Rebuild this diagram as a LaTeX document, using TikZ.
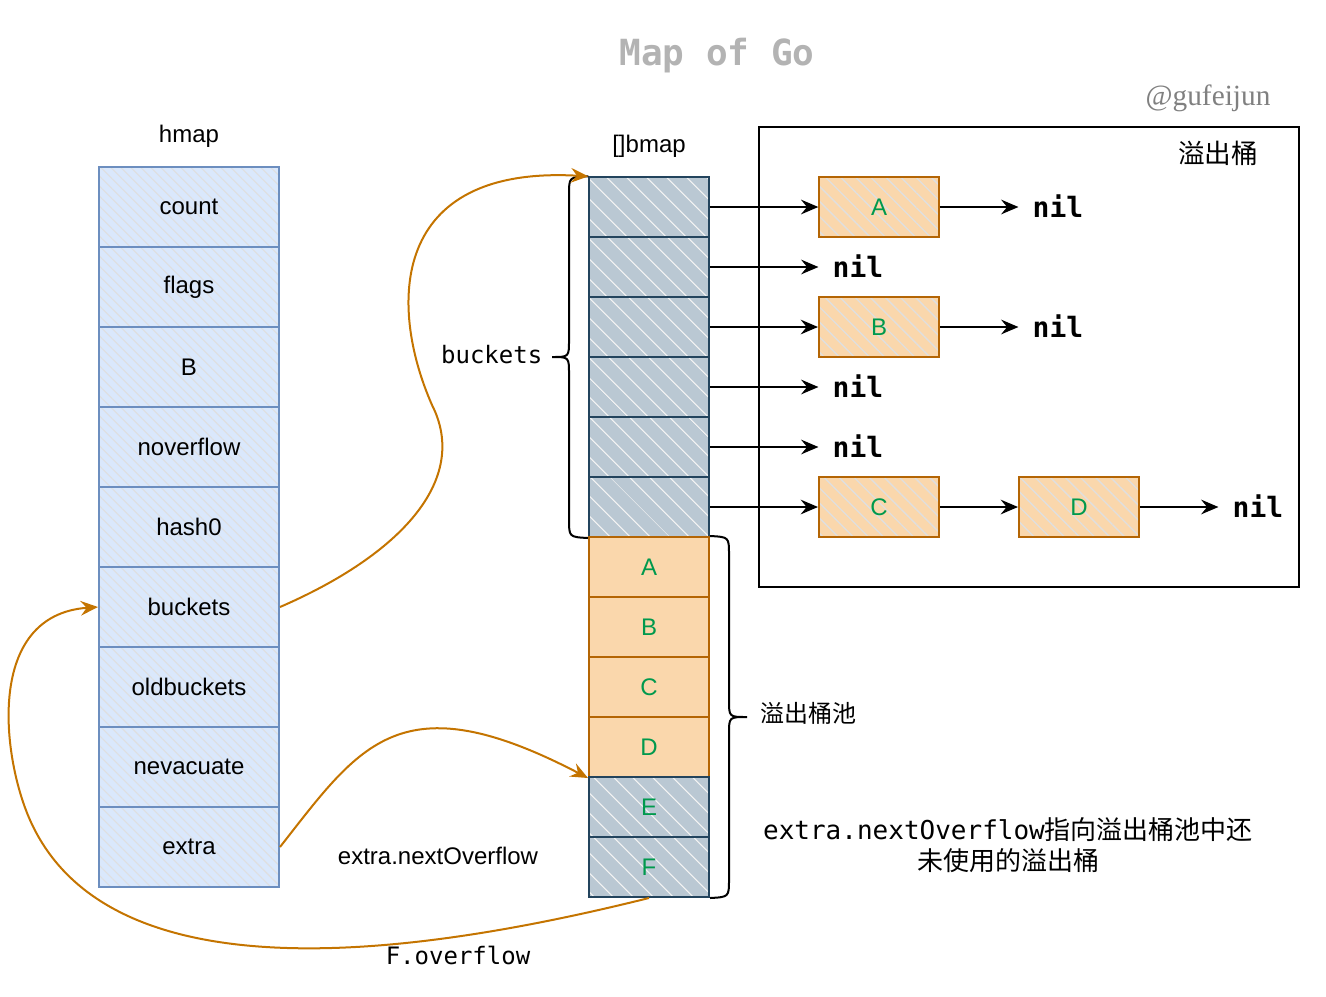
\documentclass[tikz,border=0pt]{standalone}
\usepackage{fontspec}
\setmainfont{Liberation Sans}
\setmonofont{DejaVu Sans Mono}
\newfontfamily\cjk{Noto Sans CJK SC}
\newfontfamily\sigfont{Liberation Serif}
\usepackage{tikz}
\usetikzlibrary{arrows.meta,patterns.meta}

\definecolor{hmapfill}{HTML}{DAE8FC}
\definecolor{hmapline}{HTML}{6C8EBF}
\definecolor{bmapfill}{HTML}{BAC8D3}
\definecolor{bmapline}{HTML}{23445D}
\definecolor{ovfill}{HTML}{FAD7AC}
\definecolor{ovline}{HTML}{B46504}
\definecolor{lettergreen}{HTML}{00994D}
\definecolor{curvecol}{HTML}{C47400}
\definecolor{titlegray}{HTML}{B3B3B3}
\definecolor{siggray}{HTML}{808080}

\tikzset{
  txt/.style={font=\fontsize{18}{21}\selectfont},
  monotxt/.style={font=\ttfamily\fontsize{18}{21}\selectfont},
  hcell/.style={txt, draw=hmapline, line width=1.5pt, preaction={fill=hmapfill},
    pattern={Lines[angle=-45,distance=5.3pt,line width=0.8pt]}, pattern color=gray!25,
    minimum width=135pt, minimum height=60pt, inner sep=0pt},
  bcell/.style={txt, draw=bmapline, line width=1.5pt, preaction={fill=bmapfill},
    pattern={Lines[angle=-45,distance=10.5pt,line width=1pt]}, pattern color=gray!10,
    minimum width=90pt, minimum height=45pt, inner sep=0pt},
  pcell/.style={txt, text=lettergreen, draw=ovline, line width=1.5pt, fill=ovfill,
    minimum width=90pt, minimum height=45pt, inner sep=0pt},
  ocell/.style={pcell, preaction={fill=ovfill},
    pattern={Lines[angle=-45,distance=8pt,line width=1pt]}, pattern color=gray!25},
  nilnode/.style={font=\ttfamily\bfseries\fontsize{21}{24}\selectfont, inner xsep=10.5pt, inner ysep=0pt},
  arr/.style={-{Stealth[length=13pt,width=11pt,inset=4.5pt]}, line width=1.5pt},
  curv/.style={arr, draw=curvecol},
  brace/.style={line width=1.5pt}
}

\begin{document}
\begin{tikzpicture}[x=0.75pt,y=-0.75pt]
\useasboundingbox (0,0) rectangle (1326,996);

\node[font=\ttfamily\bfseries\fontsize{27}{30}\selectfont, text=titlegray] (title) at (717,56) {Map of Go};
\node[font=\sigfont\fontsize{22}{24}\selectfont, text=siggray] (sig) at (1208,98) {@gufeijun};

\node[txt] (hmaplbl) at (189,136) {hmap};
\foreach \lbl [count=\i from 0] in {count,flags,B,noverflow,hash0,buckets,oldbuckets,nevacuate,extra}
  \node[hcell] (h\lbl) at (189,207+80*\i) {\lbl};

\node[txt] (bmaplbl) at (649,146) {[]bmap};
\foreach \i in {0,...,5}
  \node[bcell] (b\i) at (649,207+60*\i) {};
\foreach \lbl [count=\i from 0] in {A,B,C,D}
  \node[pcell] (p\lbl) at (649,567+60*\i) {\lbl};
\foreach \lbl [count=\i from 4] in {E,F}
  \node[bcell, text=lettergreen] (p\lbl) at (649,567+60*\i) {\lbl};

\node[draw, line width=1.5pt, minimum width=405pt, minimum height=345pt] (ovbox) at (1029,357) {};
\node[font=\cjk\fontsize{20}{23}\selectfont] (ovlbl) at (1218,153) {溢出桶};

\node[ocell] (oA) at (879,207) {A};
\node[ocell] (oB) at (879,327) {B};
\node[ocell] (oC) at (879,507) {C};
\node[ocell] (oD) at (1079,507) {D};

\node[nilnode] (n1) at (858,266) {nil};
\node[nilnode] (n3) at (858,386) {nil};
\node[nilnode] (n4) at (858,446) {nil};
\node[nilnode] (nA) at (1058,206) {nil};
\node[nilnode] (nB) at (1058,326) {nil};
\node[nilnode] (nD) at (1258,506) {nil};

\foreach \from/\to in {b0/oA,b1/n1,b2/oB,b3/n3,b4/n4,b5/oC,oA/nA,oB/nB,oC/oD,oD/nD}
  \draw[arr] (\from.east) -- (\from.east -| \to.west);

\draw[brace] (b0.north west) .. controls (569,177) .. (569,195) -- (569,340)
  .. controls (569,357) .. (552,357) .. controls (569,357) .. (569,374) -- (569,519)
  .. controls (569,537) .. (b5.south west);
\node[monotxt, anchor=east] (bktlbl) at (547,355) {buckets};

\draw[brace] (pA.north east) .. controls (729,537) .. (729,555) -- (729,700)
  .. controls (729,717) .. (747,717) .. controls (729,717) .. (729,734) -- (729,879)
  .. controls (729,897) .. (pF.south east);
\node[font=\cjk\fontsize{18}{21}\selectfont] (poollbl) at (808,713) {溢出桶池};

\draw[curv] (hbuckets.east) .. controls (400,555) and (470,480) .. (432,405)
  .. controls (388,305) and (390,165) .. (b0.north west);
\draw[curv] (hextra.east) .. controls (360,745) and (400,680) .. (pD.south west);
\draw[curv] (pF.south) .. controls (420,955) and (110,1000) .. (30,820)
  .. controls (2,757) and (-15,615) .. (hbuckets.west);

\node[txt] (nextlbl) at (438,856) {extra.nextOverflow};
\node[monotxt] (ovflbl) at (458,955) {F.overflow};
\node[font=\ttfamily\fontsize{19.5}{23}\selectfont, align=center] (note) at (1008,845)
  {extra.nextOverflow{\cjk 指向溢出桶池中还}\\{\cjk 未使用的溢出桶}};
\end{tikzpicture}
\end{document}
